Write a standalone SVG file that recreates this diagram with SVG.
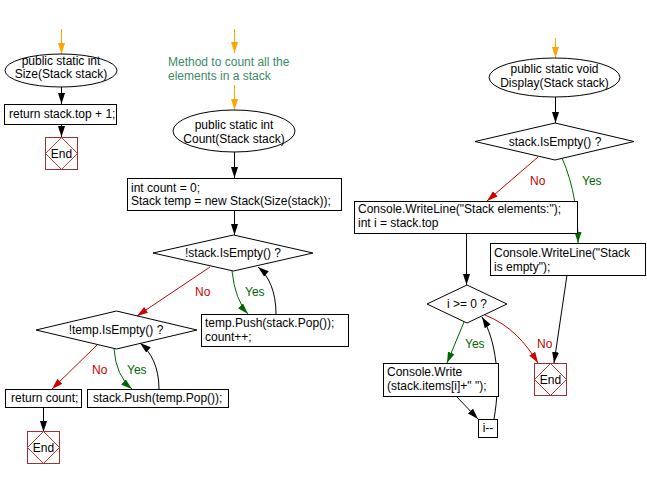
<svg xmlns="http://www.w3.org/2000/svg" width="647" height="478" viewBox="0 0 647 478">
<style>
  text { font-family: "Liberation Sans", Arial, sans-serif; font-size: 12px; fill: #000; }
  .box { fill: #fff; stroke: #000; stroke-width: 1; }
  .end { fill: #fff; stroke: #993333; stroke-width: 1; }
  .endd { fill: none; stroke: #cc3333; stroke-width: 1; }
  .c { text-anchor: middle; }
  .cm { fill: #3a8a66; }
  .ln { fill: none; stroke: #000; stroke-width: 1; }
  .or { fill: none; stroke: #ffa500; stroke-width: 1; }
  .rd { fill: none; stroke: #cc0000; stroke-width: 1; }
  .gr { fill: none; stroke: #006600; stroke-width: 1; }
  .tr { fill: #cc0000; }
  .tg { fill: #006600; }
</style>
<defs>
  <marker id="ab" viewBox="0 0 11 8" refX="11" refY="4" markerWidth="11" markerHeight="8" markerUnits="userSpaceOnUse" orient="auto"><path d="M0,0.5 L11,4 L0,7.5 z" fill="#000"/></marker>
  <marker id="ao" viewBox="0 0 11 8" refX="11" refY="4" markerWidth="11" markerHeight="8" markerUnits="userSpaceOnUse" orient="auto"><path d="M0,0.5 L11,4 L0,7.5 z" fill="#ffa500"/></marker>
  <marker id="ar" viewBox="0 0 11 8" refX="11" refY="4" markerWidth="11" markerHeight="8" markerUnits="userSpaceOnUse" orient="auto"><path d="M0,0.5 L11,4 L0,7.5 z" fill="#cc0000"/></marker>
  <marker id="ag" viewBox="0 0 11 8" refX="11" refY="4" markerWidth="11" markerHeight="8" markerUnits="userSpaceOnUse" orient="auto"><path d="M0,0.5 L11,4 L0,7.5 z" fill="#006600"/></marker>
</defs>

<g id="connectors">
  <!-- Size -->
  <path class="or" d="M61.5,29 L61.5,54" marker-end="url(#ao)"/>
  <path class="ln" d="M61.5,87 L61.5,104" marker-end="url(#ab)"/>
  <path class="ln" d="M61.5,124 L61.5,137" marker-end="url(#ab)"/>
  <!-- Count -->
  <path class="or" d="M234.5,29 L234.5,53" marker-end="url(#ao)"/>
  <path class="or" d="M234.5,85 L234.5,110" marker-end="url(#ao)"/>
  <path class="ln" d="M234.5,152 L234.5,178" marker-end="url(#ab)"/>
  <path class="ln" d="M234.5,210 L234.5,235" marker-end="url(#ab)"/>
  <path class="gr" d="M232,271 Q235,300 248,314" marker-end="url(#ag)"/>
  <path class="rd" d="M210,267 L137,316" marker-end="url(#ar)"/>
  <path class="ln" d="M276,314 C276,292 269,276 258,267" marker-end="url(#ab)"/>
  <path class="rd" d="M97,345 L52,389" marker-end="url(#ar)"/>
  <path class="gr" d="M114,349 Q116,376 132,389" marker-end="url(#ag)"/>
  <path class="ln" d="M159,389 C159,367 151,352 140,343" marker-end="url(#ab)"/>
  <path class="ln" d="M43.5,407 L43.5,432" marker-end="url(#ab)"/>
  <text class="tr" x="195" y="296">No</text>
  <text class="tg" x="245" y="296">Yes</text>
  <text class="tr" x="92" y="374">No</text>
  <text class="tg" x="127" y="374">Yes</text>
  <!-- Display -->
  <path class="or" d="M555.5,38 L555.5,58" marker-end="url(#ao)"/>
  <path class="ln" d="M555.5,97 L555.5,123" marker-end="url(#ab)"/>
  <path class="rd" d="M538,157 L487,201" marker-end="url(#ar)"/>
  <path class="gr" d="M562,158 C574,185 578,215 578,243" marker-end="url(#ag)"/>
  <path class="ln" d="M466.5,233 L466.5,285" marker-end="url(#ab)"/>
  <path class="gr" d="M464,322 L447,363" marker-end="url(#ag)"/>
  <path class="rd" d="M485,315 C510,325 525,342 538,363" marker-end="url(#ar)"/>
  <path class="ln" d="M567,275 L554,363" marker-end="url(#ab)"/>
  <path class="ln" d="M456,396 L478,419" marker-end="url(#ab)"/>
  <path class="ln" d="M494,419 C501,380 496,340 482,317" marker-end="url(#ab)"/>
  <text class="tr" x="530" y="185">No</text>
  <text class="tg" x="582" y="185">Yes</text>
  <text class="tg" x="465" y="348">Yes</text>
  <text class="tr" x="537" y="348">No</text>
</g>

<!-- Size method -->
<g id="size-start">
  <ellipse class="box" cx="61" cy="70.5" rx="56" ry="16.5"/>
  <text class="c" x="61" y="64.5">public static int</text>
  <text class="c" x="61" y="78">Size(Stack stack)</text>
</g>
<g id="size-return">
  <rect class="box" x="4.5" y="104.5" width="112" height="20"/>
  <text x="9" y="118">return stack.top + 1;</text>
</g>
<g id="size-end">
  <rect class="end" x="45.5" y="137.5" width="32" height="32"/>
  <path class="endd" d="M61.5,137.5 L77.5,153.5 L61.5,169.5 L45.5,153.5 z"/>
  <text class="c" x="61.5" y="158">End</text>
</g>

<!-- Count method -->
<g id="count-comment">
  <text class="cm" x="168" y="66">Method to count all the</text>
  <text class="cm" x="168" y="80">elements in a stack</text>
</g>
<g id="count-start">
  <ellipse class="box" cx="234" cy="131" rx="61" ry="21"/>
  <text class="c" x="234" y="129">public static int</text>
  <text class="c" x="234" y="143">Count(Stack stack)</text>
</g>
<g id="count-init">
  <rect class="box" x="127.5" y="178.5" width="214" height="32"/>
  <text x="131" y="192">int count = 0;</text>
  <text x="131" y="205">Stack temp = new Stack(Size(stack));</text>
</g>
<g id="count-cond1">
  <path class="box" d="M233.5,235 L313,253 L233.5,271 L153,253 z"/>
  <text class="c" x="233" y="257">!stack.IsEmpty() ?</text>
</g>
<g id="count-push1">
  <rect class="box" x="201.5" y="314.5" width="147" height="32"/>
  <text x="205" y="327">temp.Push(stack.Pop());</text>
  <text x="205" y="341">count++;</text>
</g>
<g id="count-cond2">
  <path class="box" d="M116.5,311 L197,330 L116.5,349 L36,330 z"/>
  <text class="c" x="116" y="334">!temp.IsEmpty() ?</text>
</g>
<g id="count-return">
  <rect class="box" x="5.5" y="389.5" width="76" height="18"/>
  <text x="11" y="402">return count;</text>
</g>
<g id="count-push2">
  <rect class="box" x="87.5" y="389.5" width="141" height="18"/>
  <text x="93" y="402">stack.Push(temp.Pop());</text>
</g>
<g id="count-end">
  <rect class="end" x="27.5" y="431.5" width="32" height="32"/>
  <path class="endd" d="M43.5,431.5 L59.5,447.5 L43.5,463.5 L27.5,447.5 z"/>
  <text class="c" x="43.5" y="452">End</text>
</g>

<!-- Display method -->
<g id="display-start">
  <ellipse class="box" cx="554.5" cy="77.5" rx="65.5" ry="19.5"/>
  <text class="c" x="554.5" y="73">public static void</text>
  <text class="c" x="554.5" y="87">Display(Stack stack)</text>
</g>
<g id="display-cond1">
  <path class="box" d="M555,123 L634,141.5 L555,160 L475,141.5 z"/>
  <text class="c" x="555" y="146">stack.IsEmpty() ?</text>
</g>
<g id="display-print">
  <rect class="box" x="354.5" y="201.5" width="223" height="32"/>
  <text x="358" y="213">Console.WriteLine("Stack elements:");</text>
  <text x="358" y="227">int i = stack.top</text>
</g>
<g id="display-empty">
  <rect class="box" x="490.5" y="243.5" width="155" height="32"/>
  <text x="494" y="257">Console.WriteLine("Stack</text>
  <text x="494" y="271">is empty");</text>
</g>
<g id="display-cond2">
  <path class="box" d="M467,285 L507,304 L467,323 L427,304 z"/>
  <text class="c" x="467" y="308">i &gt;= 0 ?</text>
</g>
<g id="display-write">
  <rect class="box" x="383.5" y="363.5" width="115" height="33"/>
  <text x="387" y="376">Console.Write</text>
  <text x="387" y="390">(stack.items[i]+" ");</text>
</g>
<g id="display-dec">
  <rect class="box" x="478.5" y="419.5" width="19" height="18"/>
  <text class="c" x="488" y="432">i--</text>
</g>
<g id="display-end">
  <rect class="end" x="534.5" y="363.5" width="32" height="32"/>
  <path class="endd" d="M550.5,363.5 L566.5,379.5 L550.5,395.5 L534.5,379.5 z"/>
  <text class="c" x="550.5" y="384">End</text>
</g>
</svg>
